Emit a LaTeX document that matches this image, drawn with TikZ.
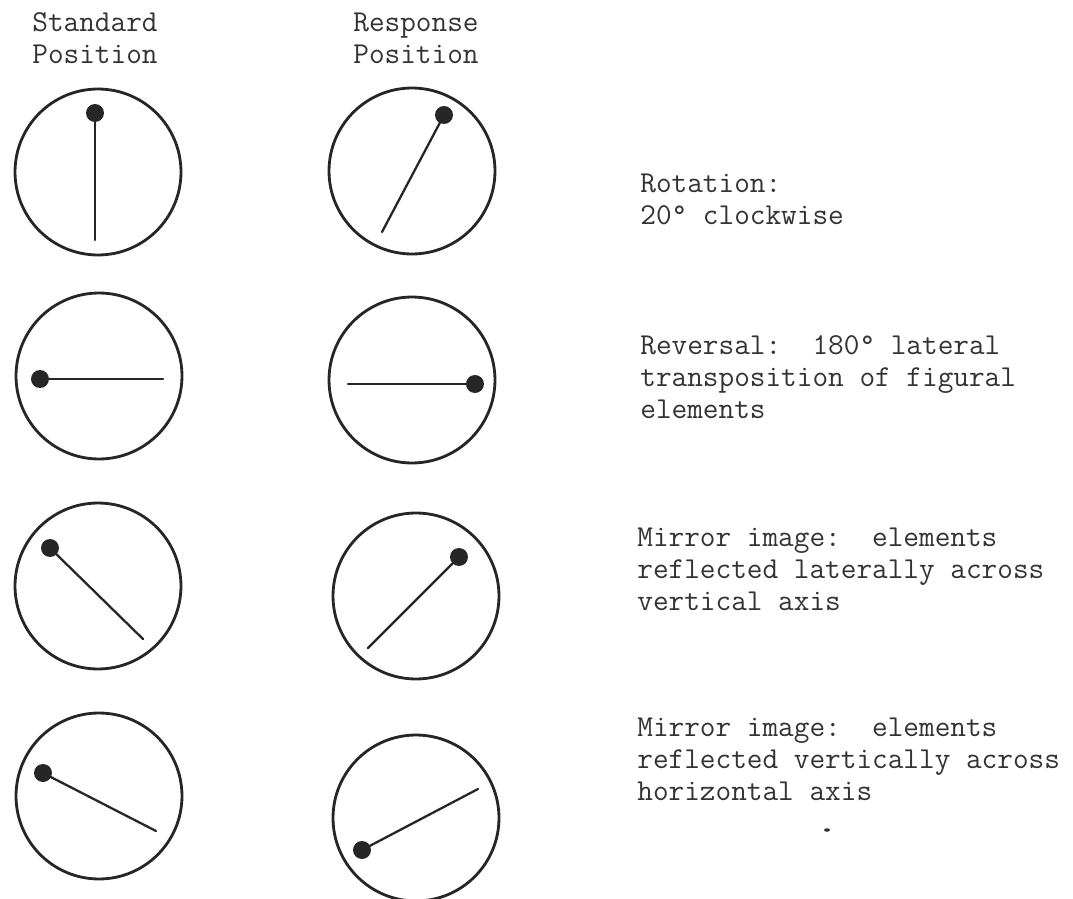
\documentclass[tikz,border=0pt]{standalone}
\usepackage{fontspec}

\begin{document}
\frenchspacing
\begin{tikzpicture}[
  x=0.02cm, y=-0.02cm,
  dial/.style={
    circle,
    draw=black!85,
    line width=1.6pt,
    minimum size=3.32cm,
    inner sep=0pt
  },
  knob/.style={
    circle,
    fill=black!85,
    minimum size=0.36cm,
    inner sep=0pt
  },
  needle/.style={
    draw=black!85,
    line width=1.3pt,
    line cap=round
  },
  caption/.style={
    anchor=base west,
    align=left,
    inner sep=0pt,
    text=black!80,
    font=\ttfamily\fontsize{17.3pt}{18.2pt}\selectfont
  }
]
\useasboundingbox (0,0) rectangle (1073,899);

% Column headings
\node[caption] (stdhead) at (32,63) {Standard\\Position};
\node[caption] (resphead) at (353,63) {Response\\Position};

% Standard position dials
\node[dial] (std1) at (98,172) {};
\node[dial] (std2) at (99,376) {};
\node[dial] (std3) at (98,586) {};
\node[dial] (std4) at (99,796) {};

\node[knob] (sknob1) at (95,113) {};
\node[knob] (sknob2) at (40,379) {};
\node[knob] (sknob3) at (50,548) {};
\node[knob] (sknob4) at (43,773) {};

\coordinate (stip1) at (95,240);
\coordinate (stip2) at (163,379);
\coordinate (stip3) at (143,639);
\coordinate (stip4) at (156,831);

% Response position dials
\node[dial] (resp1) at (412,171) {};
\node[dial] (resp2) at (412,380) {};
\node[dial] (resp3) at (416,596) {};
\node[dial] (resp4) at (416,818) {};

\node[knob] (rknob1) at (444,115) {};
\node[knob] (rknob2) at (475,384) {};
\node[knob] (rknob3) at (459,557) {};
\node[knob] (rknob4) at (362,850) {};

\coordinate (rtip1) at (382,232);
\coordinate (rtip2) at (348,384);
\coordinate (rtip3) at (368,648);
\coordinate (rtip4) at (478,789);

\foreach \i in {1,...,4} {
  \draw[needle] (sknob\i.center) -- (stip\i);
  \draw[needle] (rknob\i.center) -- (rtip\i);
}

% Descriptions
\node[caption] (rotation) at (640,224) {Rotation:\\20° clockwise};
\node[caption] (reversal) at (640,418) {Reversal:~ 180° lateral\\transposition of figural\\elements};
\node[caption] (mirrorv) at (637,610) {Mirror image:~ elements\\reflected laterally across\\vertical axis};
\node[caption] (mirrorh) at (637,800) {Mirror image:~ elements\\reflected vertically across\\horizontal axis};

% stray mark
\fill[black!80] (827,830) ellipse [x radius=0.06cm, y radius=0.035cm];

\end{tikzpicture}
\end{document}
